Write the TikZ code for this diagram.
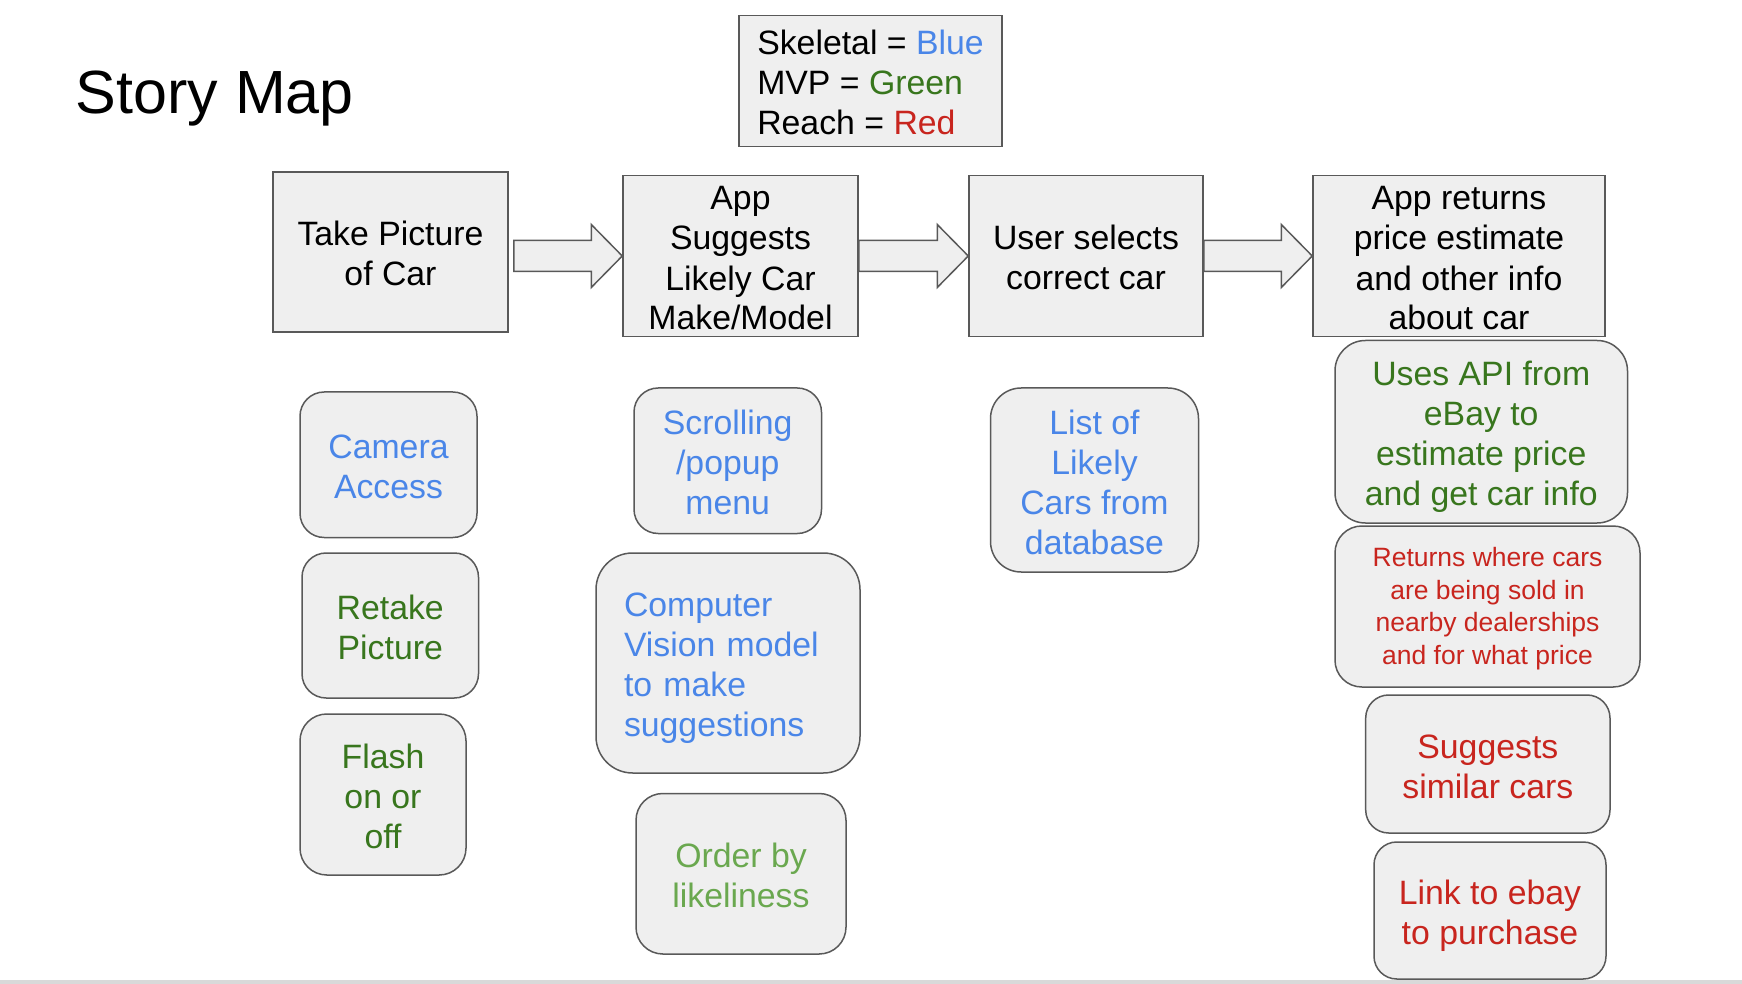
\documentclass[tikz,border=0pt]{standalone}
\usepackage{fontspec}
\setmainfont{Liberation Sans}
\usetikzlibrary{calc}
\definecolor{boxfill}{HTML}{EFEFEF}
\definecolor{boxline}{HTML}{595959}
\definecolor{skblue}{HTML}{4A86E8}
\definecolor{mvpgreen}{HTML}{38761D}
\definecolor{ltgreen}{HTML}{6AA84F}
\definecolor{reachred}{HTML}{C8251E}
\definecolor{barcol}{HTML}{D9D9D9}
\newcommand\bigstrut{\rule[-3.2pt]{0pt}{20pt}}
\newcommand\blockarrow[3]{%
  \draw[blockarrow] let \p1=(#1.east), \p2=(#2.west) in
  (\x1+#3,\y2+7.75pt) -- (\x2-15.5pt,\y2+7.75pt) -- (\x2-15.5pt,\y2+15.75pt)
  -- (\x2,\y2) -- (\x2-15.5pt,\y2-15.75pt) -- (\x2-15.5pt,\y2-7.75pt)
  -- (\x1+#3,\y2-7.75pt) -- cycle;}
\begin{document}
\begin{tikzpicture}[x=0.5pt,y=-0.5pt,
  base/.style={draw=boxline, fill=boxfill, line width=0.75pt, inner sep=0pt,
    align=center, font=\fontsize{16.9pt}{20pt}\selectfont, text depth=0pt},
  lines2/.style={text height=34pt},
  lines3/.style={text height=54pt},
  lines4/.style={text height=74pt},
  topbox/.style={base, text=black, minimum width=#1, minimum height=80.5pt},
  story/.style={base, rounded corners=#1},
  smallfont/.style={font=\fontsize{13.25pt}{16.3pt}\selectfont, text height=58pt},
  blockarrow/.style={draw=boxline, fill=boxfill, line width=0.75pt, line join=miter},
  title/.style={font=\fontsize{30.5pt}{36pt}\selectfont, inner sep=0pt}
]
\useasboundingbox (0,0) rectangle (1742,984);
\fill[white] (0,0) rectangle (1742,984);
\fill[barcol] (0,980) rectangle (1742,984);

\node[title, anchor=base west] (title) at (75.5,114) {Story Map};

\node[base, lines3, minimum width=131.5pt, minimum height=65.5pt, align=left] (legend) at (870.5,81)
  {Skeletal = \textcolor{skblue}{Blue}\\MVP = \textcolor{mvpgreen}{Green}\\Reach = \textcolor{reachred}{Red}};

% top row
\node[topbox=117.5pt, lines2, minimum height=80pt] (take) at (390.5,252) {Take Picture\\of Car};
\node[topbox=117.5pt, lines4] (suggest) at (740.5,256) {App\\Suggests\\Likely Car\\Make/Model};
\node[topbox=117pt, lines2] (select) at (1086,256) {User selects\\correct car};
\node[topbox=146pt, lines4] (returns) at (1459,256) {App returns\\price estimate\\and other info\\about car};

\blockarrow{take}{suggest}{2.5pt}
\blockarrow{suggest}{select}{0pt}
\blockarrow{select}{returns}{0pt}

% column 1
\node[story=12.1pt, lines2, text=skblue, minimum width=88.5pt, minimum height=72.75pt] (camera) at (388.5,464.75) {Camera\\Access};
\node[story=12.1pt, lines2, text=mvpgreen, minimum width=88.25pt, minimum height=72.5pt] (retake) at (390.25,625.5) {Retake\\Picture};
\node[story=13.4pt, lines3, text=mvpgreen, minimum width=83pt, minimum height=80.5pt] (flash) at (383,794.5) {Flash\\on or\\off};

% column 2
\node[story=12.1pt, lines3, text=skblue, minimum width=93.75pt, minimum height=72.75pt] (scroll) at (727.75,460.75) {Scrolling\\/popup\\menu};
\node[story=18.3pt, text=skblue, text width=104pt, align=left, minimum width=132pt, minimum height=110pt,
  text depth={}, text height={}, execute at begin node=\bigstrut, execute at end node=\bigstrut]
  (cv) at (728,663) {Computer\\Vision model\\to make\\suggestions};
\node[story=13.4pt, lines2, text=ltgreen, minimum width=105pt, minimum height=80.25pt] (order) at (741,873.75) {Order by\\likeliness};

% column 3
\node[story=15.3pt, lines4, text=skblue, minimum width=104pt, minimum height=92pt] (list) at (1094.5,480) {List of\\Likely\\Cars from\\database};

% column 4
\node[story=15.2pt, lines4, text=mvpgreen, minimum width=146.25pt, minimum height=91.25pt] (api) at (1481.25,431.75) {Uses API from\\eBay to\\estimate price\\and get car info};
\node[story=13.4pt, smallfont, text=reachred, minimum width=152.5pt, minimum height=80.5pt] (where) at (1487.5,606.5) {Returns where cars\\are being sold in\\nearby dealerships\\and for what price};
\node[story=11.5pt, lines2, text=reachred, minimum width=122.15pt, minimum height=69pt] (similar) at (1487.85,764) {Suggests\\similar cars};
\node[story=11.4pt, lines2, text=reachred, minimum width=116pt, minimum height=68.5pt] (link) at (1490,910.5) {Link to ebay\\to purchase};
\end{tikzpicture}
\end{document}
